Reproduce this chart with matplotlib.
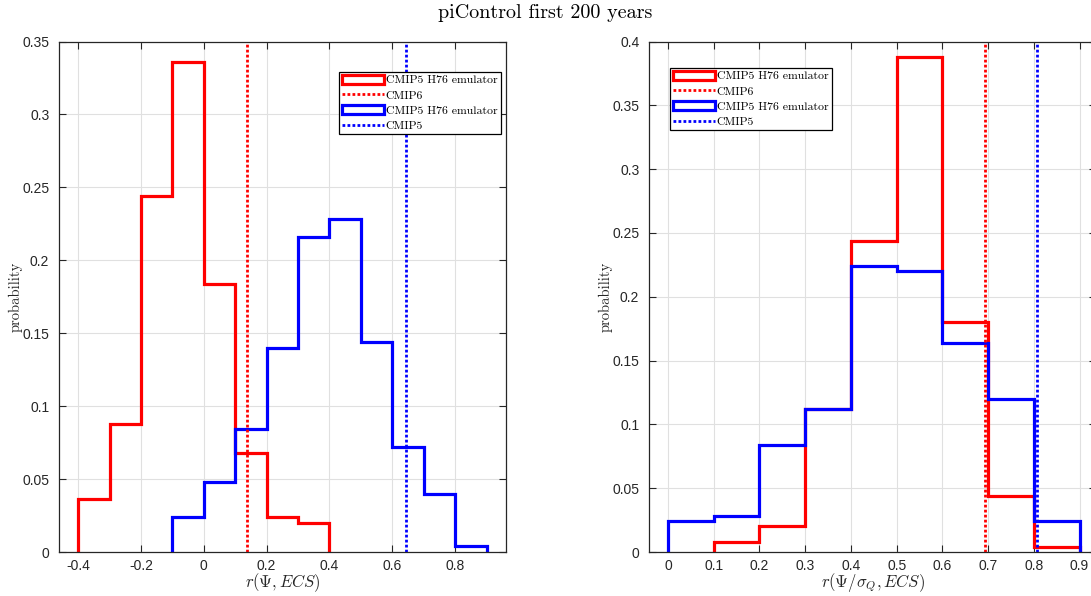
import numpy as np
import matplotlib
matplotlib.use('Agg')
import matplotlib.pyplot as plt
from matplotlib.patches import StepPatch
from matplotlib.legend_handler import HandlerPatch

plt.rcParams['mathtext.fontset'] = 'cm'
plt.rcParams['font.family'] = ['Liberation Sans', 'DejaVu Sans']

# histogram data
edges_left_red = [-0.4, -0.3, -0.2, -0.1, 0.0, 0.1, 0.2, 0.3, 0.4]
prob_left_red = [0.036, 0.088, 0.244, 0.336, 0.184, 0.068, 0.024, 0.020]
edges_left_blue = [-0.1, 0.0, 0.1, 0.2, 0.3, 0.4, 0.5, 0.6, 0.7, 0.8, 0.9]
prob_left_blue = [0.024, 0.048, 0.084, 0.140, 0.216, 0.228, 0.144, 0.072, 0.040, 0.004]
cmip6_left = 0.136
cmip5_left = 0.645

edges_right_red = [0.1, 0.2, 0.3, 0.4, 0.5, 0.6, 0.7, 0.8, 0.9]
prob_right_red = [0.008, 0.020, 0.112, 0.244, 0.388, 0.180, 0.044, 0.004]
edges_right_blue = [0.0, 0.1, 0.2, 0.3, 0.4, 0.5, 0.6, 0.7, 0.8, 0.9]
prob_right_blue = [0.024, 0.028, 0.084, 0.112, 0.224, 0.220, 0.164, 0.120, 0.024]
cmip6_right = 0.693
cmip5_right = 0.806

xticks_left = [-0.4, -0.2, 0, 0.2, 0.4, 0.6, 0.8]
xticks_right = [0, 0.1, 0.2, 0.3, 0.4, 0.5, 0.6, 0.7, 0.8, 0.9]

W, H = 1091, 596
fig = plt.figure(figsize=(W / 100, H / 100), dpi=100)

axL = fig.add_axes([59 / W, (H - 552) / H, 447 / W, 510.5 / H])
axR = fig.add_axes([649 / W, (H - 552) / H, 447 / W, 510.5 / H])

ink = '#262626'
dot = (0, (1, 0.8))


def panel(ax, er, pr, eb, pb, v6, v5, xlim, ylim, xticks, yticks, xlabel, leg_xy):
    ax.stairs(pr, er, baseline=0, fill=False, color='#ff0000', lw=2.3,
              label='CMIP5 H76 emulator')
    ax.axvline(v6, color='#ff0000', lw=2, ls=dot, label='CMIP6')
    ax.stairs(pb, eb, baseline=0, fill=False, color='#0000ff', lw=2.3,
              label='CMIP5 H76 emulator')
    ax.axvline(v5, color='#0000ff', lw=2, ls=dot, label='CMIP5')
    ax.set_xlim(xlim)
    ax.set_ylim(ylim)
    ax.set_xticks(xticks)
    ax.set_xticklabels([('%g' % t) for t in xticks])
    ax.set_yticks(yticks)
    ax.set_yticklabels([('%g' % t) for t in yticks])
    ax.grid(True, color='#e0e0e0', lw=0.8)
    ax.set_axisbelow(True)
    ax.tick_params(direction='in', top=True, right=True, length=5, width=0.8,
                   colors=ink, labelsize=10, pad=7)
    ax.tick_params(axis='x', pad=5)
    for s in ax.spines.values():
        s.set_color(ink)
        s.set_linewidth(0.9)
    ax.set_xlabel(xlabel, fontsize=12, color=ink, va='bottom')
    ax.xaxis.set_label_coords(0.5, -(594 - 552) / 510.5)
    ax.set_ylabel('probability', family='cmr10', fontsize=10.5, color=ink, va='center')
    ax.yaxis.set_label_coords((16 - 59) / 447, 0.5)
    leg = ax.legend(loc='upper left', bbox_to_anchor=leg_xy,
                    bbox_transform=fig.transFigure, prop={'family': 'cmr10', 'size': 8.5},
                    fancybox=False, framealpha=1, edgecolor='#000000',
                    borderpad=0.25, labelspacing=0.4, handlelength=3.6,
                    handleheight=0.8, handletextpad=0.15, borderaxespad=0,
                    handler_map={StepPatch: HandlerPatch()})
    leg.get_frame().set_linewidth(0.9)


panel(axL, edges_left_red, prob_left_red, edges_left_blue, prob_left_blue,
      cmip6_left, cmip5_left, (-0.461, 0.962), (0, 0.35),
      xticks_left, [0, 0.05, 0.1, 0.15, 0.2, 0.25, 0.3, 0.35],
      r'$r(\Psi, ECS)$', (338.6 / W, 1 - 71.7 / H))
panel(axR, edges_right_red, prob_right_red, edges_right_blue, prob_right_blue,
      cmip6_right, cmip5_right, (-0.0416, 0.936), (0, 0.4),
      xticks_right, [0, 0.05, 0.1, 0.15, 0.2, 0.25, 0.3, 0.35, 0.4],
      r'$r(\Psi/\sigma_Q, ECS)$', (669.6 / W, 1 - 67.7 / H))

fig.text(0.5, 1 - 13 / H, 'piControl first 200 years', family='cmr10', fontsize=14.5,
         ha='center', va='center', color='#000000')

fig.savefig('out.png', dpi=100)
